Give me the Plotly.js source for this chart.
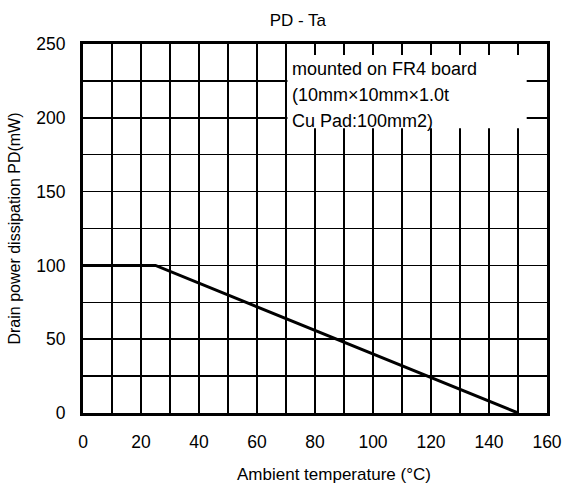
<!DOCTYPE html>
<html>
<head>
<meta charset="utf-8">
<script src="https://cdn.plot.ly/plotly-3.0.1.min.js"></script>
<style>html,body{margin:0;padding:0;background:#fff;}</style>
</head>
<body>
<div id="chart" style="width:563px;height:491px;"></div>
<script>
// Data: derating curve PD vs Ta
const ambientTemp = [0, 25, 150];          // °C
const powerDissipation = [100, 100, 0];    // mW
const xTickVals = [0, 20, 40, 60, 80, 100, 120, 140, 160];
const yTickVals = [0, 50, 100, 150, 200, 250];
const noteLines = ["mounted on FR4 board", "(10mm×10mm×1.0t", "Cu Pad:100mm2)"];
const noteY = [233, 215.5, 198];

const font = "Arial, 'Liberation Sans', sans-serif";

const trace = {
  x: ambientTemp, y: powerDissipation, type: 'scatter', mode: 'lines',
  line: {color: '#000', width: 3}, hoverinfo: 'skip', showlegend: false
};

const annotations = noteLines.map((t, i) => ({
  x: 71.4, y: noteY[i], xref: 'x', yref: 'y', xanchor: 'left', yanchor: 'middle',
  text: t, showarrow: false, font: {family: font, size: 18, color: '#000'}
}));
annotations.push({
  x: 0.54, y: -0.168, xref: 'paper', yref: 'paper', xanchor: 'center', yanchor: 'middle',
  text: 'Ambient temperature (°C)', showarrow: false,
  font: {family: font, size: 17, color: '#000'}
});

const layout = {
  width: 563, height: 491,
  margin: {l: 83, r: 16, t: 44, b: 78},
  paper_bgcolor: '#fff', plot_bgcolor: '#fff',
  font: {family: font, size: 17, color: '#000'},
  title: {text: 'PD - Ta', x: 0.463, xref: 'paper', xanchor: 'center', y: 0.959, yanchor: 'middle',
          font: {family: font, size: 17, color: '#000'}},
  xaxis: {
    range: [0, 160], tickvals: xTickVals, ticktext: xTickVals.map(String),
    showgrid: true, gridcolor: '#000', gridwidth: 1.5,
    minor: {dtick: 10, tick0: 0, showgrid: true, gridcolor: '#000', gridwidth: 1.5},
    showline: true, mirror: true, linecolor: '#000', linewidth: 3,
    zeroline: false, ticks: '', ticklabelstandoff: 11,
    tickfont: {family: font, size: 17.5, color: '#000'}, fixedrange: true
  },
  yaxis: {
    range: [0, 250], tickvals: yTickVals, ticktext: yTickVals.map(String),
    showgrid: true, gridcolor: '#000', gridwidth: 1.5,
    minor: {dtick: 25, tick0: 0, showgrid: true, gridcolor: '#000', gridwidth: 1.5},
    showline: true, mirror: true, linecolor: '#000', linewidth: 3,
    zeroline: false, ticks: '', ticklabelstandoff: 11,
    tickfont: {family: font, size: 17.5, color: '#000'}, fixedrange: true,
    title: {text: 'Drain power dissipation PD(mW)', standoff: 12,
            font: {family: font, size: 16, color: '#000'}}
  },
  shapes: [{
    type: 'rect', xref: 'x', yref: 'y', x0: 70.5, x1: 153, y0: 193, y1: 242.5,
    fillcolor: '#fff', line: {width: 0}, layer: 'above'
  }],
  annotations: annotations
};

Plotly.newPlot('chart', [trace], layout, {staticPlot: true, displayModeBar: false});
</script>
</body>
</html>
